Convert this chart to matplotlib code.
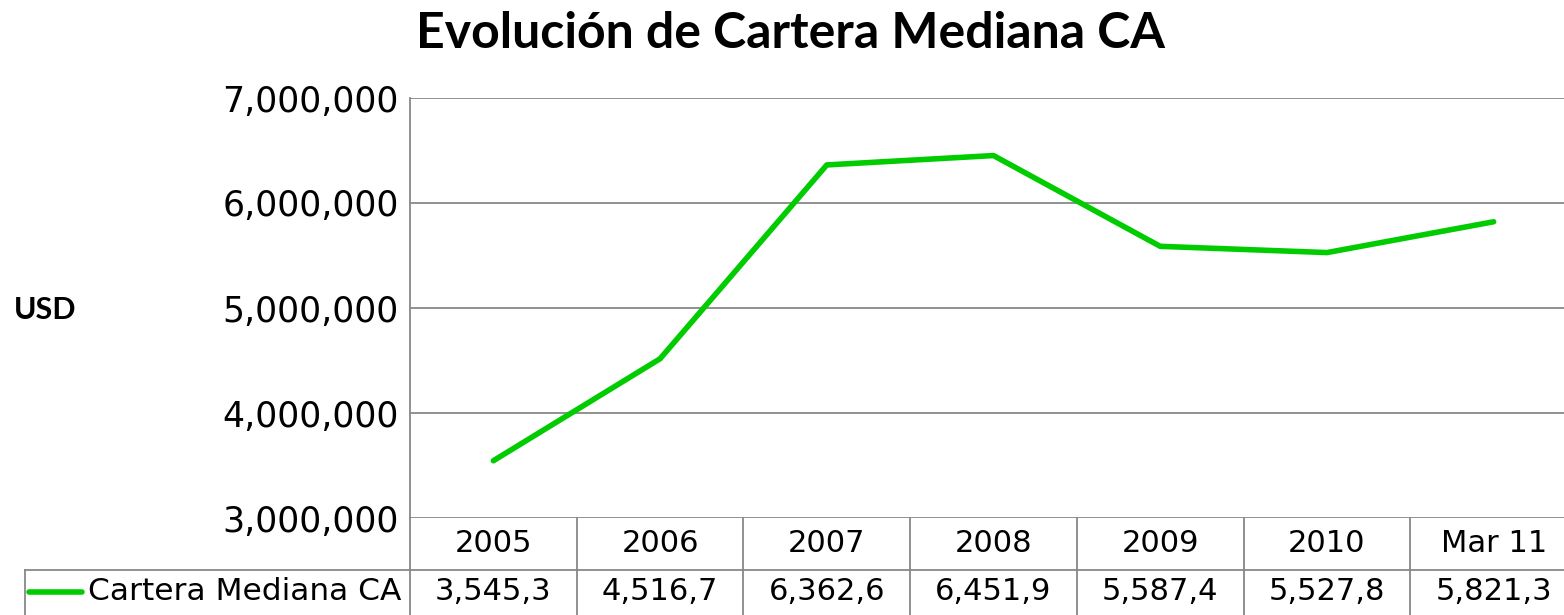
'''
Evolucion de Cartera Mediana CA - line chart with data table
'''
import matplotlib.pyplot as plt
from matplotlib.lines import Line2D
from matplotlib.transforms import blended_transform_factory
import numpy as np

categories = ['2005', '2006', '2007', '2008', '2009', '2010', 'Mar 11']
cartera = [3545300, 4516700, 6362600, 6451900, 5587400, 5527800, 5821300]
series_name = 'Cartera Mediana CA'
yticks = [3000000, 4000000, 5000000, 6000000, 7000000]

plt.rcParams['font.family'] = ['DejaVu Sans']

W, H = 1564, 615
fig = plt.figure(figsize=(W / 100, H / 100), dpi=100)

# plot area in pixels (right side runs past the image edge, like the original)
left, right, top, bottom = 410, 1577, 98, 518
ax = fig.add_axes([left / W, 1 - bottom / H, (right - left) / W, (bottom - top) / H])

green = '#00cc00'
grid = '#888888'

x = np.arange(len(categories))
ax.plot(x, cartera, color=green, linewidth=4, solid_capstyle='round', zorder=3)

ax.set_xlim(-0.5, len(categories) - 0.5)
ax.set_ylim(3000000, 7000000)
ax.set_yticks(yticks)
ax.set_yticklabels([f'{v:,}' for v in yticks], fontsize=25)
ax.tick_params(axis='y', length=0, pad=8)
ax.set_xticks([])
ax.grid(axis='y', color=grid, linewidth=1.3)
for s in ['top', 'right', 'bottom']:
    ax.spines[s].set_visible(False)
ax.spines['left'].set_color(grid)
ax.spines['left'].set_linewidth(1.3)

# title and y label
fig.text(791 / W, 1 - 33 / H, 'Evolución de Cartera Mediana CA', ha='center', va='center',
         fontsize=36, fontweight='bold', family='Lato')
fig.text(45 / W, 1 - 310 / H, 'USD', ha='center', va='center', fontsize=22, fontweight='bold',
         family='Lato')

# data table under the axis
trans = blended_transform_factory(ax.transData, fig.transFigure)
row1_mid = 1 - 544 / H
row2_top = 1 - 570 / H
row2_mid = 1 - 592 / H
y_bot = 0.0

for i, (cat, val) in enumerate(zip(categories, cartera)):
    ax.text(i, row1_mid, cat, transform=trans, ha='center', va='center', fontsize=22, clip_on=False)
    ax.text(i, row2_mid, f'{val:,}'[:7], transform=trans, ha='center', va='center', fontsize=22,
            clip_on=False)

for b in np.arange(len(categories) + 1) - 0.5:
    ax.add_line(Line2D([b, b], [y_bot, 1 - bottom / H], transform=trans, color=grid,
                       linewidth=1.3, clip_on=False))

fig.add_artist(Line2D([25 / W, 1], [row2_top, row2_top], color=grid, linewidth=1.3))
fig.add_artist(Line2D([25 / W, 25 / W], [y_bot, row2_top], color=grid, linewidth=1.3))

# legend key inside the table
fig.add_artist(Line2D([29 / W, 82 / W], [row2_mid, row2_mid], color=green, linewidth=4,
                      solid_capstyle='round'))
fig.text(88 / W, row2_mid, series_name, ha='left', va='center', fontsize=22.5)

plt.savefig('out.png', dpi=100)
